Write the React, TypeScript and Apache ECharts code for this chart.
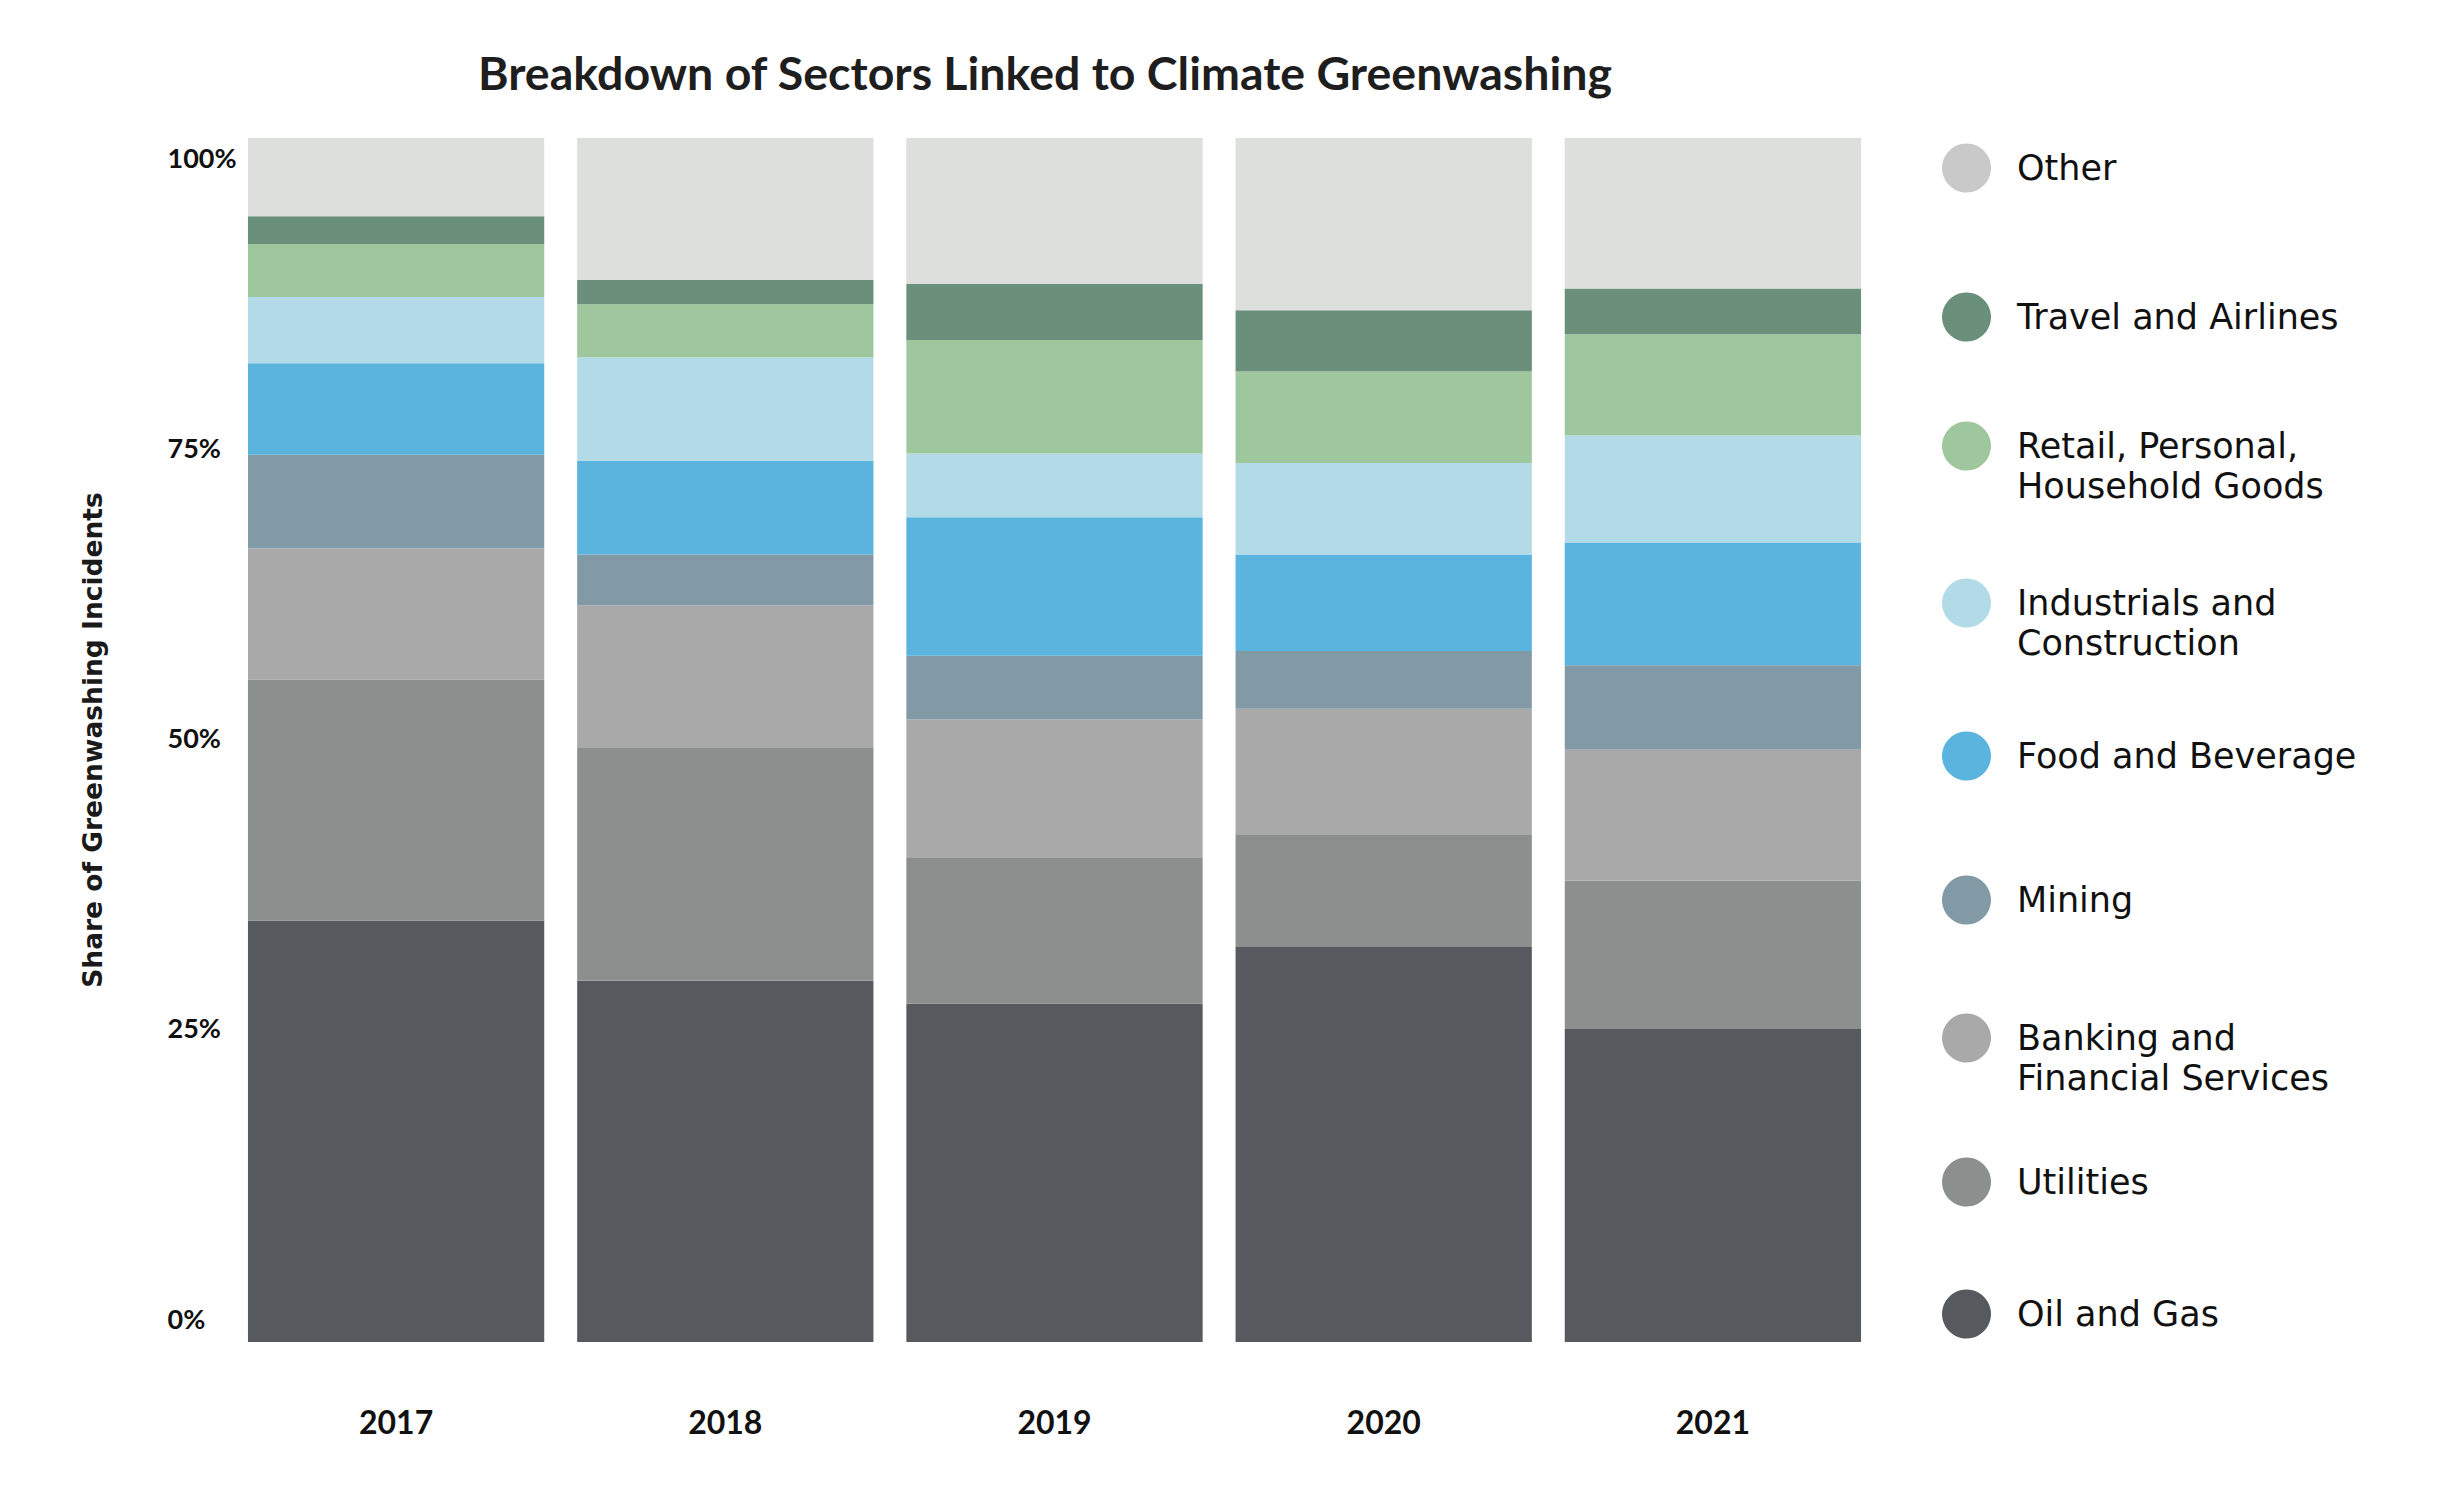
import React, { useEffect, useRef } from 'react';
import * as echarts from 'echarts';

const years = ['2017', '2018', '2019', '2020', '2021'];
const oilGas = [35.0, 30.0, 28.1, 32.8, 26.0];
const utilities = [20.0, 19.4, 12.1, 9.3, 12.3];
const banking = [10.9, 11.8, 11.5, 10.5, 10.9];
const mining = [7.8, 4.2, 5.3, 4.8, 7.0];
const foodBeverage = [7.6, 7.8, 11.5, 8.0, 10.2];
const industrials = [5.5, 8.6, 5.3, 7.6, 8.9];
const retail = [4.4, 4.4, 9.4, 7.6, 8.4];
const travel = [2.3, 2.0, 4.7, 5.1, 3.8];
const other = [6.5, 11.8, 12.1, 14.3, 12.5];
const yTicks = [0, 25, 50, 75, 100];

const sectors = [
  { name: 'Oil and Gas', data: oilGas, color: '#565a5e' },
  { name: 'Utilities', data: utilities, color: '#8b8f8d' },
  { name: 'Banking and Financial Services', data: banking, color: '#a9a9a9' },
  { name: 'Mining', data: mining, color: '#8299a6' },
  { name: 'Food and Beverage', data: foodBeverage, color: '#5ab4de' },
  { name: 'Industrials and Construction', data: industrials, color: '#b3dae7' },
  { name: 'Retail, Personal, Household Goods', data: retail, color: '#9fc79d' },
  { name: 'Travel and Airlines', data: travel, color: '#6a8f7a' },
  { name: 'Other', data: other, color: '#dcdfdc' },
];

// legend label text, with the line breaks of the original
const legendLabels: Record<string, string[]> = {
  'Retail, Personal, Household Goods': ['Retail, Personal,', 'Household Goods'],
  'Industrials and Construction': ['Industrials and', 'Construction'],
  'Banking and Financial Services': ['Banking and', 'Financial Services'],
};

// vertical centre of each legend row (its first line), top to bottom
const legendRows: [string, number][] = [
  ['Other', 168],
  ['Travel and Airlines', 317],
  ['Retail, Personal, Household Goods', 446],
  ['Industrials and Construction', 603],
  ['Food and Beverage', 756],
  ['Mining', 900],
  ['Banking and Financial Services', 1038],
  ['Utilities', 1182],
  ['Oil and Gas', 1314],
];

const LINE = 40;
const ICON = 49;

const App: React.FC = () => {
  const chartRef = useRef<HTMLDivElement>(null);

  useEffect(() => {
    if (!chartRef.current) return;
    const chart = echarts.init(chartRef.current, undefined, { renderer: 'svg' });

    const legends = legendRows.map(([name, cy]) => {
      const lines = legendLabels[name];
      // two-line labels get an empty line above so the first line sits level with the dot
      const boxH = lines ? LINE * 3 : ICON;
      const sector = sectors.find((s) => s.name === name)!;
      return {
        orient: 'vertical',
        left: 1942,
        top: cy - boxH / 2,
        padding: 0,
        icon: 'circle',
        itemWidth: ICON,
        itemHeight: ICON,
        selectedMode: false,
        formatter: (n: string) => (legendLabels[n] ? '\n' + legendLabels[n].join('\n') : n),
        textStyle: {
          fontFamily: 'DejaVu Sans',
          fontSize: 35,
          color: '#111111',
          lineHeight: LINE,
          padding: [0, 0, 0, 21],
        },
        data: [
          {
            name,
            itemStyle: { color: name === 'Other' ? '#c9c9c9' : sector.color },
          },
        ],
      };
    });

    const option: echarts.EChartsOption = {
      animation: false,
      backgroundColor: '#ffffff',
      title: {
        text: 'Breakdown of Sectors Linked to Climate Greenwashing',
        left: 473,
        top: 43,
        textStyle: {
          fontFamily: 'Lato',
          fontWeight: 'bold',
          fontSize: 46.5,
          color: '#1e1e1e',
        },
      },
      legend: legends as any,
      grid: [
        { left: 231.5, top: 138, width: 1646, height: 1204 },
        { left: 231.5, top: 157, width: 1646, height: 1161 },
      ],
      xAxis: [
        {
          type: 'category',
          gridIndex: 0,
          data: years,
          axisLine: { show: false },
          axisTick: { show: false },
          axisLabel: {
            margin: 63,
            fontFamily: 'Lato',
            fontWeight: 'bold',
            fontSize: 32,
            color: '#111',
          },
        },
        { type: 'value', gridIndex: 1, min: 0, max: 1, show: false },
      ],
      yAxis: [
        {
          type: 'value',
          gridIndex: 0,
          min: 0,
          max: 100,
          axisLabel: { show: false },
          axisLine: { show: false },
          axisTick: { show: false },
          splitLine: { show: false },
          name: 'Share of Greenwashing Incidents',
          nameLocation: 'middle',
          nameGap: 126,
          nameTextStyle: {
            fontFamily: 'DejaVu Sans',
            fontWeight: 'bold',
            fontSize: 26.5,
            color: '#1a1a1a',
          },
        },
        {
          type: 'value',
          gridIndex: 1,
          min: yTicks[0],
          max: yTicks[yTicks.length - 1],
          interval: 25,
          axisLine: { show: false },
          axisTick: { show: false },
          splitLine: { show: false },
          axisLabel: {
            align: 'left',
            margin: 64,
            formatter: '{value}%',
            fontFamily: 'Lato',
            fontWeight: 'bold',
            fontSize: 27,
            color: '#111',
          },
        },
      ],
      series: sectors.map((s) => ({
        name: s.name,
        type: 'bar',
        stack: 'total',
        xAxisIndex: 0,
        yAxisIndex: 0,
        barCategoryGap: '10%',
        itemStyle: { color: s.color },
        data: s.data,
      })),
    };

    chart.setOption(option);

    const handleResize = () => chart.resize();
    window.addEventListener('resize', handleResize);
    return () => {
      window.removeEventListener('resize', handleResize);
      chart.dispose();
    };
  }, []);

  return (
    <div
      ref={chartRef}
      style={{ position: 'absolute', left: 0, top: 0, width: 2453, height: 1506 }}
    />
  );
};

export default App;
